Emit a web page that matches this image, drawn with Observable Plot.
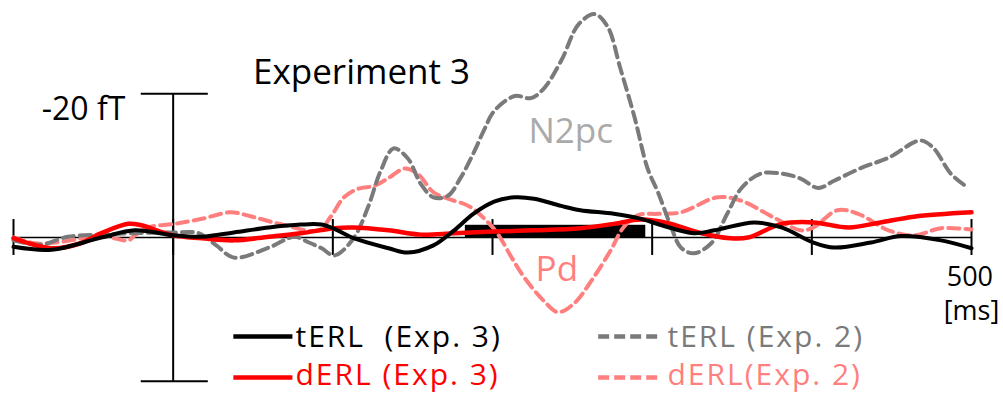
<!DOCTYPE html>
<html>
<head>
<meta charset="utf-8">
<script src="https://cdn.jsdelivr.net/npm/d3@7"></script>
<script src="https://cdn.jsdelivr.net/npm/@observablehq/plot@0.6"></script>
<style>
  html, body { margin: 0; padding: 0; background: #fff; }
  #chart svg { display: block; }
  #chart text { white-space: pre; }
</style>
</head>
<body>
<div id="chart"></div>
<script>
// ---- Data (time in ms, amplitude in fT; negative = up) ----
const tERL3_t = [-100,-76,-45,-24,0,18,38,60,80,93,101,113,135,147,163,176,188,201,214,226,243,255,276,293,306,326,339,364,381,401,414,437,456,481,500];
const tERL3_v = [1.3,1.7,0,-1.0,-0.3,-0.1,-0.7,-1.4,-1.8,-1.8,-1.2,0.1,1.5,2.1,1.1,-1.0,-3.3,-5.0,-5.6,-5.4,-4.4,-3.8,-3.3,-2.6,-1.7,-0.6,-1.0,-2.1,-1.4,0.7,1.4,0.7,-0.2,0.4,1.5];

const dERL3_t = [-100,-76,-58,-45,-28,-20,0,18,38,60,80,101,113,135,155,176,197,226,255,276,293,310,329,349,360,381,401,423,443,464,500];
const dERL3_v = [0.1,1.5,0.8,-0.6,-1.9,-1.7,-0.3,0.1,0.4,-0.1,-0.6,-1.3,-1.4,-1.0,-0.4,-0.6,-0.8,-1.0,-1.3,-1.9,-2.5,-2.0,-0.7,0.1,0,-1.9,-2.1,-1.4,-2.1,-2.9,-3.5];

const tERL2_t = [-100,-83,-66,-45,-26,0,16,27,38,60,76,85,93,101,113,122,130,138,147,155,163,172,180,188,195,201,214,224,232,243,254,264,272,280,289,297,304,312,318,326,337,347,356,368,381,393,404,414,431,448,468,476,487,498];
const tERL2_v = [0.4,1.0,-0.1,-0.4,-0.6,-0.7,-0.6,1.1,2.8,1.4,-0.1,0.7,1.5,2.5,0.1,-4.2,-9.3,-12.4,-11.0,-7.5,-5.6,-5.8,-8.3,-11.7,-15.1,-17.6,-19.7,-19.4,-20.7,-24.6,-29.7,-31.1,-29.4,-23.6,-16.7,-9.7,-6.1,-1.4,1.4,2.2,0.8,-3.3,-6.9,-8.9,-8.9,-8.2,-6.9,-7.9,-9.7,-11.1,-13.5,-12.5,-8.9,-6.9];

const dERL2_t = [-100,-87,-78,-64,-45,-37,-28,-24,-16,1,18,36,51,70,91,99,107,116,126,135,145,153,163,172,185,195,203,212,220,232,241,251,262,274,282,291,304,318,341,356,376,393,401,416,429,448,464,481,500];
const dERL2_v = [0,0.8,0.8,0.4,-0.3,0.1,0.4,-0.3,-1.4,-1.9,-2.6,-3.5,-2.8,-1.7,-1.0,-3.0,-5.6,-6.8,-7.2,-8.3,-9.6,-8.9,-6.3,-5.4,-4.4,-2.6,-0.6,2.8,5.6,8.8,10.4,9.2,6.0,1.8,-1.4,-3.1,-3.3,-3.5,-5.6,-5.1,-2.8,-1.0,-1.4,-3.8,-3.3,-1.0,-0.3,-1.3,-1.1];

// significance window (ms) and its bar height (fT)
const sigWindow = [{start: 183, end: 296, depth: -1.7}];

const xTicks = [-100, 0, 100, 200, 300, 400, 500];
const scaleBar = [-20, 20];
const seriesLabels = ["tERL  (Exp. 3)", "dERL (Exp. 3)", "tERL (Exp. 2)", "dERL(Exp. 2)"];
const titleText = "Experiment 3";
const unitLabel = "-20 fT";
const endTickLabel = "500";
const timeUnit = "[ms]";
const componentLabels = ["N2pc", "Pd"];

const toRows = (ts, vs) => ts.map((t, i) => ({t, v: vs[i]}));
const tERL3 = toRows(tERL3_t, tERL3_v);
const dERL3 = toRows(dERL3_t, dERL3_v);
const tERL2 = toRows(tERL2_t, tERL2_v);
const dERL2 = toRows(dERL2_t, dERL2_v);

const BLACK = "#000000", RED = "#ff0000", GRAY = "#7a7a7a", PINK = "#ff7f7f";
const DASH = "11,6";
const font = "Open Sans";

const chart = Plot.plot({
  width: 1003,
  height: 395,
  marginLeft: 13,
  marginRight: 32,
  marginTop: 0,
  marginBottom: 0,
  x: {domain: [-100, 500], axis: null},
  y: {domain: [22, -33], axis: null},
  style: {fontFamily: font, background: "#fff"},
  marks: [
    // axes
    Plot.ruleY([0], {x1: -100, x2: 500, stroke: BLACK, strokeWidth: 1.6}),
    Plot.ruleX(xTicks, {y1: -2.5, y2: 2.5, stroke: BLACK, strokeWidth: 2}),
    Plot.ruleX([0], {y1: -20, y2: 20, stroke: BLACK, strokeWidth: 2}),
    Plot.ruleY(scaleBar, {x1: -20, x2: 22, stroke: BLACK, strokeWidth: 2}),
    // significance bar
    Plot.rect(sigWindow, {x1: "start", x2: "end", y1: 0, y2: "depth", fill: BLACK}),
    // curves
    Plot.line(dERL2, {x: "t", y: "v", curve: "catmull-rom", stroke: PINK, strokeWidth: 4, strokeDasharray: DASH}),
    Plot.line(tERL2, {x: "t", y: "v", curve: "catmull-rom", stroke: GRAY, strokeWidth: 4, strokeDasharray: DASH}),
    Plot.line(dERL3, {x: "t", y: "v", curve: "catmull-rom", stroke: RED, strokeWidth: 4.5}),
    Plot.line(tERL3, {x: "t", y: "v", curve: "catmull-rom", stroke: BLACK, strokeWidth: 4}),
    // labels
    Plot.text([titleText], {x: 50, y: -21.4, text: d => d, textAnchor: "start", lineAnchor: "bottom", fontSize: 35, fill: BLACK}),
    Plot.text([unitLabel], {x: -30, y: -16.4, text: d => d, textAnchor: "end", lineAnchor: "bottom", fontSize: 32, fill: BLACK}),
    Plot.text([componentLabels[0]], {x: 222.5, y: -13.1, text: d => d, textAnchor: "start", lineAnchor: "bottom", fontSize: 35, fill: "#aaaaaa"}),
    Plot.text([componentLabels[1]], {x: 227, y: 6.0, text: d => d, textAnchor: "start", lineAnchor: "bottom", fontSize: 35, fill: PINK}),
    Plot.text([endTickLabel], {x: 499, y: 6.8, text: d => d, textAnchor: "middle", lineAnchor: "bottom", fontSize: 27, fill: BLACK}),
    Plot.text([timeUnit], {x: 500, y: 11.5, text: d => d, textAnchor: "middle", lineAnchor: "bottom", fontSize: 27, fill: BLACK}),
    // legend
    Plot.ruleY([13.8], {x1: 38, x2: 75, stroke: BLACK, strokeWidth: 4.5}),
    Plot.ruleY([19.5], {x1: 38, x2: 75, stroke: RED, strokeWidth: 4.5}),
    Plot.ruleY([13.8], {x1: 266.5, x2: 304, stroke: GRAY, strokeWidth: 4.5, strokeDasharray: "11,5"}),
    Plot.ruleY([19.5], {x1: 266.5, x2: 304, stroke: PINK, strokeWidth: 4.5, strokeDasharray: "11,5"}),
    Plot.text([seriesLabels[0]], {x: 76.6, y: 15.3, text: d => d, textAnchor: "start", lineAnchor: "bottom", fontSize: 30, fill: BLACK}),
    Plot.text([seriesLabels[1]], {x: 76.6, y: 20.6, text: d => d, textAnchor: "start", lineAnchor: "bottom", fontSize: 30, fill: RED}),
    Plot.text([seriesLabels[2]], {x: 309.6, y: 15.3, text: d => d, textAnchor: "start", lineAnchor: "bottom", fontSize: 30, fill: GRAY}),
    Plot.text([seriesLabels[3]], {x: 309.6, y: 20.6, text: d => d, textAnchor: "start", lineAnchor: "bottom", fontSize: 30, fill: PINK})
  ]
});
// slightly widen the legend lettering to match the original typeface's spread
d3.select(chart).selectAll("text")
  .filter(function() { return seriesLabels.includes(this.textContent); })
  .style("letter-spacing", "2px");
document.getElementById("chart").appendChild(chart);
</script>
</body>
</html>
